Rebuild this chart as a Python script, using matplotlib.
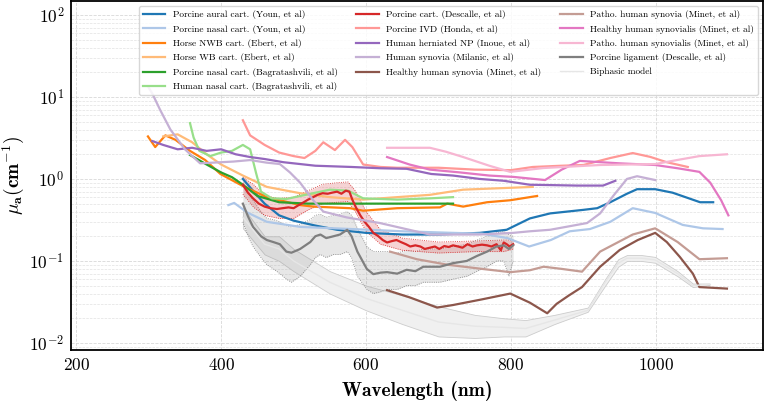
## Coeficientes de absorcion de tejidos (mu_a) frente a longitud de onda

import numpy as np
import matplotlib
matplotlib.use('Agg')
import matplotlib.pyplot as plt

# Fuente tipo LaTeX (Computer Modern incluida en matplotlib)
plt.rcParams['font.family'] = 'cmr10'
plt.rcParams['mathtext.fontset'] = 'cm'
plt.rcParams['axes.formatter.use_mathtext'] = True

# ---------------- Datos ----------------
# Porcine aural cart. (Youn)
wl_youn_aural = [430, 445, 460, 480, 500, 530, 560, 600, 650, 700, 757, 794, 826, 854, 900, 919, 937, 960, 974, 999, 1023, 1061, 1079]
mu_youn_aural = [1.0, 0.7, 0.5, 0.36, 0.31, 0.27, 0.24, 0.22, 0.21, 0.21, 0.22, 0.24, 0.33, 0.38, 0.42, 0.44, 0.52, 0.66, 0.75, 0.75, 0.68, 0.52, 0.52]

# Porcine nasal cart. (Youn)
wl_youn_nasal = [410, 418, 436, 463, 510, 580, 650, 720, 760, 795, 825, 855, 881, 909, 937, 968, 999, 1037, 1065, 1092]
mu_youn_nasal = [0.48, 0.51, 0.39, 0.30, 0.26, 0.245, 0.23, 0.22, 0.215, 0.19, 0.15, 0.18, 0.23, 0.245, 0.30, 0.44, 0.385, 0.275, 0.25, 0.245]

# Horse NWB cart. (Ebert)
wl_ebert_nwb = [299, 309, 323, 337, 357, 378, 399, 430, 463, 509, 527, 578, 596, 643, 702, 712, 734, 767, 799, 836]
mu_ebert_nwb = [3.3, 2.45, 3.4, 3.0, 2.2, 1.7, 1.15, 0.82, 0.6, 0.48, 0.46, 0.44, 0.41, 0.44, 0.45, 0.5, 0.46, 0.52, 0.55, 0.62]

# Horse WB cart. (Ebert)
wl_ebert_wb = [320, 340, 360, 380, 400, 430, 463, 509, 550, 596, 643, 688, 734, 799, 830]
mu_ebert_wb = [3.3, 3.5, 2.8, 2.0, 1.5, 1.1, 0.8, 0.67, 0.6, 0.56, 0.6, 0.64, 0.74, 0.78, 0.8]

# Porcine nasal cart. (Bagratashvili)
wl_bag_porc = [357, 380, 400, 415, 430, 450, 480, 520, 600, 650, 720]
mu_bag_porc = [1.96, 1.5, 1.2, 1.05, 0.85, 0.62, 0.52, 0.5, 0.5, 0.5, 0.5]

# Human nasal cart. (Bagratashvili)
wl_bag_hum = [357, 362, 370, 385, 400, 415, 430, 440, 448, 455, 470, 490, 520, 550, 575, 596, 643, 688, 720]
mu_bag_hum = [4.8, 3.2, 2.2, 1.9, 2.1, 2.2, 2.6, 2.3, 1.2, 0.7, 0.58, 0.57, 0.65, 0.74, 0.72, 0.58, 0.56, 0.58, 0.6]

# Porcine cart. (Descalle) + banda
wl_desc_cart = [430, 437, 444, 452, 460, 468, 477, 485, 493, 500, 507, 514, 520, 527, 533, 540, 547, 553, 560, 566,
                572, 577, 581, 586, 592, 598, 604, 610, 617, 623, 629, 636, 642, 648, 655, 661, 668, 675, 681, 688,
                695, 701, 708, 714, 720, 727, 733, 740, 747, 753, 760, 767, 773, 780, 786, 790, 794, 798, 803]
mu_desc_cart = [0.85, 0.68, 0.58, 0.5, 0.46, 0.44, 0.43, 0.44, 0.45, 0.44, 0.48, 0.52, 0.56, 0.6, 0.64, 0.67, 0.66, 0.68, 0.7, 0.66,
                0.72, 0.70, 0.56, 0.45, 0.36, 0.3, 0.26, 0.22, 0.2, 0.18, 0.168, 0.175, 0.18, 0.17, 0.16, 0.15, 0.155, 0.15, 0.14, 0.145,
                0.15, 0.14, 0.152, 0.148, 0.155, 0.15, 0.145, 0.16, 0.15, 0.155, 0.158, 0.155, 0.15, 0.16, 0.135, 0.168, 0.16, 0.15, 0.16]
wl_desc_cart_band = [430, 445, 460, 480, 500, 520, 540, 560, 575, 585, 600, 620, 650, 700, 750, 790, 803]
hi_desc_cart = [1.05, 0.85, 0.62, 0.58, 0.6, 0.72, 0.86, 0.9, 0.92, 0.72, 0.4, 0.24, 0.19, 0.17, 0.175, 0.18, 0.18]
lo_desc_cart = [0.65, 0.45, 0.36, 0.33, 0.33, 0.42, 0.5, 0.52, 0.53, 0.4, 0.23, 0.16, 0.135, 0.125, 0.13, 0.13, 0.14]

# Porcine IVD (Honda)
wl_honda = [430, 440, 460, 480, 500, 515, 530, 541, 557, 571, 581, 596, 620, 643, 700, 750, 800, 830, 870, 900, 937, 968, 992, 1015, 1044]
mu_honda = [5.2, 3.4, 2.6, 2.1, 1.9, 1.8, 2.2, 2.8, 2.25, 3.0, 2.45, 1.5, 1.4, 1.37, 1.37, 1.3, 1.28, 1.4, 1.45, 1.48, 1.8, 2.07, 1.86, 1.6, 1.4]

# Human herniated NP (Inoue)
wl_inoue = [305, 320, 340, 360, 380, 400, 420, 440, 460, 486, 530, 580, 620, 656, 690, 720, 757, 790, 826, 860, 891, 927, 944]
mu_inoue = [2.9, 2.6, 2.3, 2.4, 2.2, 2.3, 2.0, 1.85, 1.75, 1.6, 1.45, 1.4, 1.35, 1.33, 1.15, 1.1, 1.0, 0.95, 0.85, 0.84, 0.83, 0.83, 0.95]

# Human synovia (Milanic)
wl_milanic = [300, 305, 316, 330, 350, 371, 400, 417, 440, 463, 481, 495, 509, 527, 541, 573, 619, 688, 757, 803, 826, 854, 905, 923, 941, 960, 974, 999]
mu_milanic = [13, 11, 6.9, 4.0, 2.3, 1.55, 1.6, 1.63, 1.7, 1.58, 1.52, 1.2, 0.9, 0.55, 0.40, 0.34, 0.29, 0.21, 0.21, 0.22, 0.23, 0.24, 0.29, 0.38, 0.62, 1.0, 1.08, 0.97]

# Healthy human synovia (Minet)
wl_minet_hs = [629, 660, 698, 720, 760, 799, 826, 850, 863, 880, 898, 923, 950, 975, 999, 1015, 1033, 1051, 1060, 1079, 1098]
mu_minet_hs = [0.044, 0.036, 0.027, 0.029, 0.034, 0.040, 0.031, 0.023, 0.030, 0.038, 0.048, 0.085, 0.136, 0.18, 0.22, 0.17, 0.112, 0.07, 0.048, 0.047, 0.046]

# Patho. human synovia (Minet)
wl_minet_ps = [633, 670, 712, 760, 799, 826, 845, 870, 898, 923, 968, 999, 1030, 1060, 1098]
mu_minet_ps = [0.13, 0.105, 0.09, 0.08, 0.073, 0.077, 0.085, 0.08, 0.074, 0.13, 0.21, 0.25, 0.17, 0.105, 0.108]

# Healthy human synovialis (Minet)
wl_minet_hsl = [629, 660, 688, 730, 770, 803, 847, 870, 895, 950, 999, 1030, 1060, 1075, 1090, 1100]
mu_minet_hsl = [1.85, 1.5, 1.3, 1.2, 1.1, 1.06, 0.97, 1.3, 1.66, 1.55, 1.48, 1.35, 1.22, 0.9, 0.55, 0.36]

# Patho. human synovialis (Minet)
wl_minet_psl = [629, 688, 710, 734, 770, 799, 845, 923, 999, 1029, 1060, 1098]
mu_minet_psl = [2.4, 2.4, 2.15, 1.85, 1.45, 1.22, 1.36, 1.48, 1.52, 1.7, 1.9, 2.0]

# Porcine ligament (Descalle) + banda
wl_desc_lig = [430, 437, 444, 455, 463, 472, 481, 490, 497, 509, 523, 530, 537, 545, 555, 564, 574, 580, 588, 601,
               610, 620, 629, 643, 656, 668, 679, 702, 720, 739, 753, 767, 780, 790, 797, 803]
mu_desc_lig = [0.5, 0.35, 0.26, 0.2, 0.18, 0.17, 0.16, 0.13, 0.126, 0.14, 0.17, 0.2, 0.21, 0.19, 0.2, 0.21, 0.24, 0.2, 0.13, 0.08,
               0.069, 0.072, 0.073, 0.07, 0.078, 0.075, 0.085, 0.085, 0.094, 0.1, 0.115, 0.13, 0.15, 0.155, 0.14, 0.155]
hi_desc_lig = [0.9, 0.7, 0.55, 0.4, 0.33, 0.32, 0.30, 0.27, 0.26, 0.28, 0.32, 0.36, 0.37, 0.34, 0.36, 0.37, 0.40, 0.36, 0.25, 0.15,
               0.13, 0.13, 0.13, 0.125, 0.135, 0.13, 0.14, 0.14, 0.15, 0.16, 0.18, 0.2, 0.22, 0.23, 0.21, 0.2]
lo_desc_lig = [0.3, 0.2, 0.15, 0.11, 0.09, 0.08, 0.07, 0.06, 0.055, 0.065, 0.09, 0.11, 0.12, 0.11, 0.12, 0.12, 0.13, 0.11, 0.065, 0.045,
               0.04, 0.042, 0.045, 0.045, 0.05, 0.05, 0.055, 0.055, 0.06, 0.065, 0.075, 0.085, 0.1, 0.1, 0.065, 0.1]

# Biphasic model (media + banda)
wl_biph = [430, 460, 480, 500, 550, 600, 650, 700, 750, 790, 820, 860, 906, 930, 948, 960, 980, 999, 1030, 1051, 1074]
mu_biph = [0.34, 0.16, 0.14, 0.1, 0.055, 0.035, 0.025, 0.018, 0.016, 0.0155, 0.015, 0.019, 0.025, 0.055, 0.094, 0.108, 0.108, 0.103, 0.07, 0.05, 0.052]
hi_biph = [0.45, 0.2, 0.2, 0.14, 0.075, 0.05, 0.038, 0.028, 0.022, 0.02, 0.019, 0.022, 0.027, 0.06, 0.105, 0.118, 0.118, 0.112, 0.075, 0.053, 0.053]
lo_biph = [0.25, 0.12, 0.1, 0.075, 0.04, 0.025, 0.017, 0.012, 0.0115, 0.012, 0.012, 0.017, 0.024, 0.05, 0.085, 0.1, 0.1, 0.095, 0.065, 0.048, 0.051]

# ---------------- Figura ----------------
colores = plt.cm.tab20.colors

fig = plt.figure(figsize=(7.65, 4.03), dpi=100)
ax = fig.add_axes([0.093, 0.1315, 0.9046, 0.866])

curvas = [
    (wl_youn_aural, mu_youn_aural, 'Porcine aural cart. (Youn, et al)'),
    (wl_youn_nasal, mu_youn_nasal, 'Porcine nasal cart. (Youn, et al)'),
    (wl_ebert_nwb, mu_ebert_nwb, 'Horse NWB cart. (Ebert, et al)'),
    (wl_ebert_wb, mu_ebert_wb, 'Horse WB cart. (Ebert, et al)'),
    (wl_bag_porc, mu_bag_porc, 'Porcine nasal cart. (Bagratashvili, et al)'),
    (wl_bag_hum, mu_bag_hum, 'Human nasal cart. (Bagratashvili, et al)'),
    (wl_desc_cart, mu_desc_cart, 'Porcine cart. (Descalle, et al)'),
    (wl_honda, mu_honda, 'Porcine IVD (Honda, et al)'),
    (wl_inoue, mu_inoue, 'Human herniated NP (Inoue, et al)'),
    (wl_milanic, mu_milanic, 'Human synovia (Milanic, et al)'),
    (wl_minet_hs, mu_minet_hs, 'Healthy human synovia (Minet, et al)'),
    (wl_minet_ps, mu_minet_ps, 'Patho. human synovia (Minet, et al)'),
    (wl_minet_hsl, mu_minet_hsl, 'Healthy human synovialis (Minet, et al)'),
    (wl_minet_psl, mu_minet_psl, 'Patho. human synovialis (Minet, et al)'),
    (wl_desc_lig, mu_desc_lig, 'Porcine ligament (Descalle, et al)'),
]

# Bandas de incertidumbre
ax.fill_between(wl_biph, lo_biph, hi_biph, color='#f0f0f0', edgecolor='#cccccc', linewidth=0.6, zorder=1)
ax.fill_between(wl_desc_lig, lo_desc_lig, hi_desc_lig, color='#7f7f7f', alpha=0.18, linewidth=0, zorder=1)
ax.plot(wl_desc_lig, hi_desc_lig, ':', color='#7f7f7f', lw=0.6, zorder=1)
ax.plot(wl_desc_lig, lo_desc_lig, ':', color='#7f7f7f', lw=0.6, zorder=1)
ax.fill_between(wl_desc_cart_band, lo_desc_cart, hi_desc_cart, color=colores[6], alpha=0.2, linewidth=0, zorder=1)
ax.plot(wl_desc_cart_band, hi_desc_cart, ':', color=colores[6], lw=0.6, zorder=1)
ax.plot(wl_desc_cart_band, lo_desc_cart, ':', color=colores[6], lw=0.6, zorder=1)

for i, (wl, mu, etiqueta) in enumerate(curvas):
    ax.plot(wl, mu, color=colores[i], lw=1.6, label=etiqueta, zorder=2)
ax.plot(wl_biph, mu_biph, color='#e6e6e6', lw=1.0, label='Biphasic model', zorder=2)

ax.set_yscale('log')
ax.set_xlim(193, 1148)
ax.set_ylim(0.0082, 148)
ax.set_xticks([200, 400, 600, 800, 1000])

# Rejilla discontinua (mayor y menor)
ax.grid(True, which='major', linestyle='--', color='#d8d8d8', linewidth=0.6)
ax.grid(True, which='minor', axis='y', linestyle='--', color='#e2e2e2', linewidth=0.5)
ax.set_axisbelow(True)

ax.tick_params(which='both', length=0, labelsize=12.5, pad=5)
for s in ax.spines.values():
    s.set_linewidth(1.3)
    s.set_color('black')

ax.set_xlabel('Wavelength (nm)', family='cmb10', fontsize=14, labelpad=6)
ax.set_ylabel(r'$\mu_\mathbf{a}\mathbf{(cm^{-1})}$', fontsize=14, labelpad=2)

ax.legend(ncol=3, loc='upper left', bbox_to_anchor=(0.095, 0.99), fontsize=6.75,
          frameon=True, edgecolor='#d0d0d0', framealpha=0.85, handlelength=2.4,
          labelspacing=0.58, columnspacing=2.0, borderaxespad=0.2)

plt.savefig('out.png', dpi=100)
